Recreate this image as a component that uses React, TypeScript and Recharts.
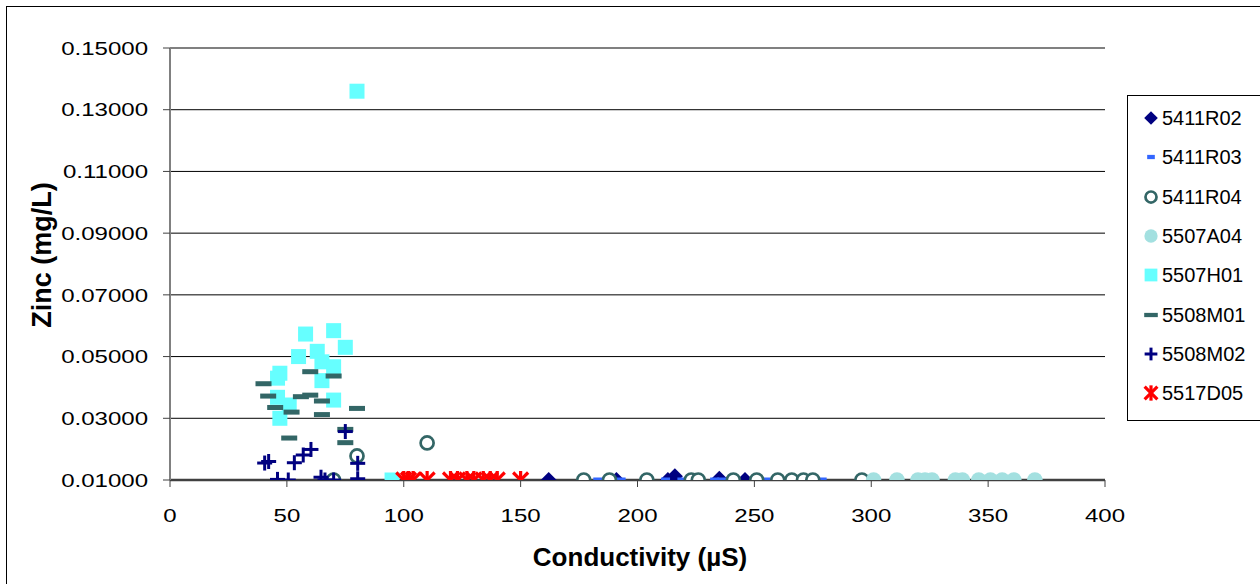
import React from 'react';
import { ScatterChart, Scatter, XAxis, YAxis, CartesianGrid, ReferenceLine } from 'recharts';

// [conductivity (µS), zinc (mg/L)]
const s5411R02: [number, number][] = [[162, 0.0100], [191, 0.0100], [213, 0.0100], [216, 0.0112], [235, 0.0104], [246, 0.0100]];
const s5411R03: [number, number][] = [[183, 0.0100], [193, 0.0100], [212, 0.0100], [219, 0.0100], [233, 0.0100], [236, 0.0100], [255, 0.0100], [279, 0.0100]];
const s5411R04: [number, number][] = [[70, 0.0100], [80, 0.0178], [110, 0.0220], [177, 0.0100], [188, 0.0100], [204, 0.0100], [223, 0.0100], [226, 0.0100], [241, 0.0100], [251, 0.0100], [260, 0.0100], [266, 0.0100], [271, 0.0100], [275, 0.0100], [296, 0.0100]];
const s5507A04: [number, number][] = [[301, 0.0100], [311, 0.0100], [320, 0.0100], [323, 0.0100], [326, 0.0100], [336, 0.0100], [339, 0.0100], [346, 0.0100], [351, 0.0100], [356, 0.0100], [361, 0.0100], [370, 0.0100]];
const s5507H01: [number, number][] = [[80, 0.1360], [58, 0.0573], [70, 0.0584], [75, 0.0530], [55, 0.0500], [63, 0.0517], [65, 0.0483], [70, 0.0467], [47, 0.0446], [46, 0.0430], [65, 0.0422], [46, 0.0368], [51, 0.0343], [70, 0.0359], [47, 0.0300], [95, 0.0100]];
const s5508M01: [number, number][] = [[60, 0.0451], [70, 0.0437], [40, 0.0412], [42, 0.0372], [56, 0.0370], [60, 0.0375], [65, 0.0356], [45, 0.0335], [80, 0.0332], [52, 0.0320], [65, 0.0312], [51, 0.0236], [75, 0.0264], [75, 0.0221]];
const s5508M02: [number, number][] = [[40.5, 0.0155], [42.2, 0.0160], [46, 0.0102], [50.6, 0.0100], [53.2, 0.0156], [57, 0.0181], [60.3, 0.0199], [64.6, 0.0109], [66.3, 0.0100], [70, 0.0100], [75, 0.0257], [80.3, 0.0154], [80.3, 0.0104]];
const s5517D05: [number, number][] = [[100, 0.0100], [102, 0.0100], [104, 0.0100], [110, 0.0100], [120, 0.0100], [123, 0.0100], [127, 0.0100], [130, 0.0100], [134, 0.0100], [137, 0.0100], [140, 0.0100], [150, 0.0100]];

const xTicks = [0, 50, 100, 150, 200, 250, 300, 350, 400];
const yTicks = [0.01, 0.03, 0.05, 0.07, 0.09, 0.11, 0.13, 0.15];

type ShapeKind = 'diamond' | 'bluedash' | 'ring' | 'dot' | 'square' | 'slatedash' | 'plus' | 'star';

const drawShape = (kind: ShapeKind, cx: number, cy: number, s = 1) => {
  switch (kind) {
    case 'diamond':
      return <polygon points={`${cx},${cy - 8 * s} ${cx + 8 * s},${cy} ${cx},${cy + 8 * s} ${cx - 8 * s},${cy}`} fill="#000080" />;
    case 'bluedash':
      return <rect x={cx - 4.5 * s} y={cy - 2.5 * s} width={9 * s} height={5 * s} fill="#3366FF" />;
    case 'ring':
      return <circle cx={cx} cy={cy} r={6.5 * s} fill="#fff" stroke="#336666" strokeWidth={2.7} />;
    case 'dot':
      return <circle cx={cx} cy={cy} r={7.8 * s} fill="#A3E0E0" />;
    case 'square':
      return <rect x={cx - 7.5 * s} y={cy - 7.5 * s} width={15 * s} height={15 * s} fill="#66FFFF" />;
    case 'slatedash':
      return <rect x={cx - 8 * s} y={cy - 2.5 * s} width={16 * s} height={5 * s} fill="#336666" />;
    case 'plus':
      return (
        <g stroke="#000080" strokeWidth={3}>
          <line x1={cx - 7.5 * s} y1={cy} x2={cx + 7.5 * s} y2={cy} />
          <line x1={cx} y1={cy - 7.5 * s} x2={cx} y2={cy + 7.5 * s} />
        </g>
      );
    case 'star':
      return (
        <g stroke="#FF0000" strokeWidth={3.2}>
          <line x1={cx} y1={cy - 9 * s} x2={cx} y2={cy + 9 * s} />
          <line x1={cx - 7.5 * s} y1={cy - 7.5 * s} x2={cx + 7.5 * s} y2={cy + 7.5 * s} />
          <line x1={cx - 7.5 * s} y1={cy + 7.5 * s} x2={cx + 7.5 * s} y2={cy - 7.5 * s} />
        </g>
      );
  }
  return null;
};

const SERIES: { name: string; data: [number, number][]; kind: ShapeKind }[] = [
  { name: '5411R02', data: s5411R02, kind: 'diamond' },
  { name: '5411R03', data: s5411R03, kind: 'bluedash' },
  { name: '5411R04', data: s5411R04, kind: 'ring' },
  { name: '5507A04', data: s5507A04, kind: 'dot' },
  { name: '5507H01', data: s5507H01, kind: 'square' },
  { name: '5508M01', data: s5508M01, kind: 'slatedash' },
  { name: '5508M02', data: s5508M02, kind: 'plus' },
  { name: '5517D05', data: s5517D05, kind: 'star' },
];

const FONT = '"Liberation Sans", Arial, sans-serif';

const YTick = (props: any) => {
  const { x, y, payload } = props;
  return (
    <g transform={`translate(${x},${y}) scale(1.3,1)`}>
      <text x={0} y={0} textAnchor="end" dy="0.36em" fontFamily={FONT} fontSize={18.5} fill="#000">
        {Number(payload.value).toFixed(5)}
      </text>
    </g>
  );
};

const XTick = (props: any) => {
  const { x, y, payload } = props;
  return (
    <g transform={`translate(${x},${y}) scale(1.3,1)`}>
      <text x={0} y={0} textAnchor="middle" dy="0.71em" fontFamily={FONT} fontSize={18.5} fill="#000">
        {payload.value}
      </text>
    </g>
  );
};

export default function App() {
  return (
    <div style={{ position: 'fixed', left: 0, top: 0, width: 1260, height: 584, background: '#fff', overflow: 'hidden' }}>
      <ScatterChart width={1260} height={584} margin={{ top: 48, right: 155, bottom: 64, left: 20 }}>
        <CartesianGrid horizontal vertical={false} stroke="#000" strokeWidth={1} />
        <ReferenceLine y={0.15} stroke="#808080" strokeWidth={2} />
        <XAxis
          type="number"
          dataKey="x"
          domain={[0, 400]}
          ticks={xTicks}
          allowDataOverflow
          height={40}
          tickSize={7}
          tickMargin={22}
          tick={<XTick />}
          axisLine={{ stroke: '#404040', strokeWidth: 2.5 }}
          tickLine={{ stroke: '#404040', strokeWidth: 1 }}
        />
        <YAxis
          type="number"
          dataKey="y"
          domain={[0.01, 0.15]}
          ticks={yTicks}
          allowDataOverflow
          width={150}
          tickSize={7}
          tickMargin={15}
          tick={<YTick />}
          axisLine={{ stroke: '#808080', strokeWidth: 2 }}
          tickLine={{ stroke: '#404040', strokeWidth: 1 }}
        />
        {SERIES.map((s) => (
          <Scatter
            key={s.name}
            name={s.name}
            data={s.data.map(([x, y]) => ({ x, y }))}
            isAnimationActive={false}
            shape={(p: any) => drawShape(s.kind, p.cx, p.cy)}
          />
        ))}
      </ScatterChart>
      <div style={{ position: 'absolute', left: 6, top: 6, width: 1262, height: 586, border: '1.5px solid #000', boxSizing: 'border-box', pointerEvents: 'none' }} />
      <div style={{ position: 'absolute', left: 42, top: 255, transform: 'translate(-50%,-50%) rotate(-90deg)', fontFamily: FONT, fontWeight: 'bold', fontSize: 27, whiteSpace: 'nowrap' }}>
        Zinc (mg/L)
      </div>
      <div style={{ position: 'absolute', left: 640, top: 557, transform: 'translate(-50%,-50%)', fontFamily: FONT, fontWeight: 'bold', fontSize: 26, whiteSpace: 'nowrap' }}>
        Conductivity (µS)
      </div>
      <div style={{ position: 'absolute', left: 1127, top: 95, width: 145, height: 326, border: '1.5px solid #000', boxSizing: 'border-box', background: '#fff' }}>
        {SERIES.map((s, i) => (
          <div key={s.name} style={{ position: 'absolute', left: 12, top: 22 + i * 39.3 - 12, height: 24, display: 'flex', alignItems: 'center' }}>
            <svg width={22} height={22} style={{ display: 'block' }}>
              {drawShape(s.kind, 11, 11, 0.85)}
            </svg>
            <span style={{ fontFamily: FONT, fontSize: 20, lineHeight: '24px' }}>{s.name}</span>
          </div>
        ))}
      </div>
    </div>
  );
}
